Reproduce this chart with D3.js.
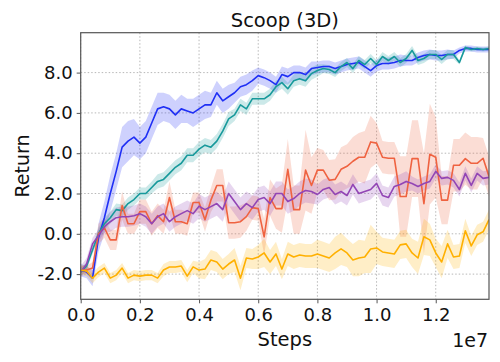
<!DOCTYPE html>
<html>
<head>
<meta charset="utf-8">
<script src="https://cdn.jsdelivr.net/npm/d3@7"></script>
<style>
  body { margin: 0; background: #fff; }
  svg { display: block; font-family: "DejaVu Sans", sans-serif; }
</style>
</head>
<body>
<div id="chart"></div>
<script>
// evaluation points, every 2e5 steps
var steps = d3.range(70).map(function (i) { return i * 2e5; });

var xTicks = [0, 2e6, 4e6, 6e6, 8e6, 10e6, 12e6];
var xTickLabels = ["0.0", "0.2", "0.4", "0.6", "0.8", "1.0", "1.2"];
var yTicks = [-2, 0, 2, 4, 6, 8];
var yTickLabels = ["-2.0", "0.0", "2.0", "4.0", "6.0", "8.0"];

var blue = [-1.8,-1.9,-2.2,-0.2,0.8,2.0,3.1,4.3,4.6,4.8, 4.5,4.8,5.5,6.2,6.3,6.2,5.9,6.2,6.1,6.0,
  6.2,6.4,6.4,7.0,6.6,6.8,7.0,7.3,7.4,7.6, 7.85,7.75,7.6,7.4,7.9,7.8,8.0,8.0,7.9,8.2,
  8.25,8.3,8.3,8.2,8.3,8.4,8.45,8.5,8.3,8.1, 8.35,8.45,8.45,8.5,8.6,8.6,8.6,8.75,8.85,8.9,
  8.85,8.85,8.9,8.9,9.1,9.2,9.2,9.15,9.15,9.15];
var blueSd = [0.3,0.3,0.4,0.7,0.8,0.9,0.9,1.0,1.0,0.9, 0.8,0.8,0.8,0.8,0.7,0.7,0.7,0.7,0.6,0.7,
  0.7,0.7,0.6,0.6,0.6,0.6,0.5,0.5,0.5,0.5, 0.4,0.4,0.4,0.4,0.4,0.4,0.35,0.35,0.35,0.35,
  0.3,0.3,0.3,0.3,0.3,0.3,0.3,0.3,0.3,0.3, 0.3,0.3,0.3,0.3,0.3,0.25,0.25,0.25,0.25,0.25,
  0.25,0.25,0.25,0.2,0.15,0.15,0.15,0.15,0.15,0.15];

var teal = [-1.9,-1.6,-0.8,0.0,0.5,0.8,1.2,1.15,1.5,1.7, 2.0,2.0,2.3,2.6,2.7,3.0,3.3,3.5,3.9,3.9,
  4.2,4.4,4.3,4.6,5.1,5.7,5.9,6.4,6.2,6.7, 6.7,6.7,6.9,7.3,7.5,7.2,7.6,7.7,7.6,7.95,
  8.1,8.2,8.15,8.0,8.3,8.5,8.2,8.6,8.4,8.7, 8.4,8.8,8.6,8.8,8.5,8.7,9.1,8.6,8.7,8.9,
  8.9,8.65,8.9,8.9,8.5,9.25,9.15,9.2,9.15,9.2];
var tealSd = [0.2,0.2,0.2,0.3,0.3,0.3,0.3,0.3,0.3,0.3, 0.3,0.3,0.3,0.35,0.35,0.35,0.35,0.35,0.35,0.35,
  0.35,0.35,0.35,0.35,0.35,0.35,0.3,0.3,0.3,0.3, 0.3,0.3,0.3,0.3,0.3,0.3,0.3,0.3,0.3,0.3,
  0.3,0.22,0.22,0.22,0.22,0.22,0.22,0.22,0.22,0.22, 0.22,0.22,0.22,0.22,0.22,0.22,0.22,0.22,0.22,0.22,
  0.22,0.22,0.22,0.22,0.1,0.1,0.1,0.1,0.1,0.1];

var red = [-1.8,-1.8,-1.7,0.0,0.3,-0.3,-0.3,1.4,0.5,0.5, 1.1,1.1,0.5,0.9,0.6,1.8,0.6,0.6,0.5,1.55,
  1.55,0.7,1.67,2.4,2.4,0.55,0.55,0.6,0.85,1.3, 1.25,-0.15,1.8,1.25,1.25,3.2,1.2,1.2,3.16,2.4,
  3.16,3.16,2.66,2.7,3.2,3.35,3.6,3.8,3.8,4.56, 4.5,3.8,3.75,3.75,1.85,1.85,3.73,3.73,1.5,3.95,
  3.8,1.67,1.67,3.4,3.4,3.73,3.5,3.5,3.75,2.85];
var redSd = [0.2,0.2,0.3,0.5,0.5,0.5,0.5,0.7,0.5,0.5, 0.6,0.6,0.6,0.6,0.6,0.8,0.6,0.6,0.6,0.5,
  0.5,0.6,0.6,0.8,0.8,0.8,0.8,0.8,0.7,0.6, 0.6,0.9,0.9,1.0,1.2,1.5,1.2,1.2,2.0,1.4,
  1.1,1.0,1.0,1.0,1.1,1.1,1.2,1.2,1.3,1.3, 1.0,0.8,0.8,0.8,2.0,2.0,1.9,1.9,2.5,2.5,
  2.0,1.2,1.2,1.3,1.3,1.3,1.3,1.3,1.0,1.0];

var purple = [-1.9,-1.5,-0.5,-0.1,0.35,0.6,0.8,0.85,0.85,0.9, 1.0,0.85,0.5,0.85,1.0,0.6,0.85,1.0,1.15,1.0,
  1.37,1.2,1.35,1.5,1.2,2.0,1.6,1.2,1.5,1.3, 1.7,1.8,1.5,2.0,2.0,1.6,1.75,2.0,2.15,2.1,
  1.95,2.2,2.3,1.95,2.1,1.9,2.45,2.0,2.1,2.2, 2.5,1.9,1.8,2.35,2.45,2.6,2.5,2.35,2.5,2.6,
  3.1,2.75,2.8,2.65,2.2,3.0,2.4,3.0,2.75,2.8];
var purpleSd = [0.3,0.3,0.3,0.3,0.3,0.5,0.5,0.5,0.5,0.5, 0.5,0.5,0.5,0.5,0.5,0.5,0.5,0.5,0.5,0.5,
  0.6,0.6,0.6,0.6,0.6,0.6,0.6,0.6,0.6,0.6, 0.6,0.6,0.6,0.6,0.6,0.6,0.6,0.6,0.6,0.6,
  0.5,0.5,0.5,0.5,0.5,0.5,0.5,0.5,0.5,0.5, 0.5,0.5,0.5,0.5,0.5,0.5,0.35,0.35,0.35,0.35,
  0.35,0.35,0.35,0.35,0.35,0.35,0.35,0.35,0.35,0.35];

var yellow = [-1.8,-1.85,-2.2,-1.9,-1.7,-2.2,-2.05,-1.7,-2.2,-2.05, -2.1,-2.05,-2.05,-2.2,-1.8,-1.65,-1.65,-1.6,-2.1,-1.64,
  -1.8,-1.75,-1.3,-1.4,-1.75,-1.5,-1.3,-2.2,-1.2,-1.25, -1.15,-0.95,-1.4,-1.0,-1.75,-1.0,-1.15,-1.05,-1.1,-1.1,
  -1.0,-1.1,-1.2,-0.95,-0.75,-0.95,-1.3,-1.2,-1.15,-0.75, -0.7,-0.9,-0.95,-1.0,-0.55,-0.5,-0.95,-1.2,-0.15,-0.3,
  -0.95,-1.4,-0.5,-1.15,-1.1,0.15,-0.6,-0.05,0.1,0.7];
var yellowSd = [0.25,0.25,0.25,0.25,0.25,0.25,0.25,0.25,0.25,0.25, 0.25,0.25,0.25,0.25,0.3,0.3,0.3,0.3,0.3,0.3,
  0.4,0.5,0.5,0.5,0.5,0.5,0.6,0.6,0.5,0.5, 0.6,0.7,0.6,0.6,0.5,0.6,0.6,0.6,0.6,0.6,
  0.7,0.7,0.7,0.8,0.8,0.7,0.8,0.9,0.8,1.2, 0.8,0.7,0.7,0.7,0.7,0.7,0.7,0.8,0.9,0.8,
  0.7,0.8,0.7,0.6,0.6,0.6,0.5,0.5,0.5,0.5];

var series = [
  { name: "blue",   values: blue,   sd: blueSd,   color: "#1f2ff5" },
  { name: "teal",   values: teal,   sd: tealSd,   color: "#17999b" },
  { name: "red",    values: red,    sd: redSd,    color: "#ef6240" },
  { name: "purple", values: purple, sd: purpleSd, color: "#9245b5" },
  { name: "yellow", values: yellow, sd: yellowSd, color: "#ffb000" }
];

var width = 500, height = 362;
var margin = { top: 32.7, right: 11, bottom: 62.7, left: 80.7 };
var w = width - margin.left - margin.right;
var h = height - margin.top - margin.bottom;

var svg = d3.select("#chart").append("svg")
  .attr("width", width)
  .attr("height", height);

var x = d3.scaleLinear().domain([0, 1.38e7]).range([0, w]);
var y = d3.scaleLinear().domain([-3.25, 9.98]).range([h, 0]);

var g = svg.append("g").attr("transform", "translate(" + margin.left + "," + margin.top + ")");

// grid
g.selectAll(".gx").data(xTicks).enter().append("line")
  .attr("x1", function (d) { return x(d); }).attr("x2", function (d) { return x(d); })
  .attr("y1", 0).attr("y2", h)
  .attr("stroke", "#b8b8b8").attr("stroke-width", 1).attr("stroke-dasharray", "1.5,2");
g.selectAll(".gy").data(yTicks).enter().append("line")
  .attr("x1", 0).attr("x2", w)
  .attr("y1", function (d) { return y(d); }).attr("y2", function (d) { return y(d); })
  .attr("stroke", "#b8b8b8").attr("stroke-width", 1).attr("stroke-dasharray", "1.5,2");

var clip = svg.append("clipPath").attr("id", "clip").append("rect")
  .attr("width", w).attr("height", h);
var plot = g.append("g").attr("clip-path", "url(#clip)");

var area = d3.area()
  .x(function (d, i) { return x(steps[i]); })
  .y0(function (d) { return y(d[0] - d[1]); })
  .y1(function (d) { return y(d[0] + d[1]); });
var line = d3.line()
  .x(function (d, i) { return x(steps[i]); })
  .y(function (d) { return y(d); });

series.forEach(function (s) {
  var pairs = s.values.map(function (v, i) { return [v, s.sd[i]]; });
  plot.append("path").datum(pairs)
    .attr("d", area)
    .attr("fill", s.color).attr("fill-opacity", 0.22).attr("stroke", "none");
});
series.forEach(function (s) {
  plot.append("path").datum(s.values)
    .attr("d", line)
    .attr("fill", "none").attr("stroke", s.color).attr("stroke-width", 1.6)
    .attr("stroke-linejoin", "round");
});

// axes
var xAxis = g.append("g").attr("transform", "translate(0," + h + ")")
  .call(d3.axisBottom(x).tickValues(xTicks).tickSize(4).tickPadding(5)
    .tickFormat(function (d, i) { return xTickLabels[i]; }));
var yAxis = g.append("g")
  .call(d3.axisLeft(y).tickValues(yTicks).tickSize(4).tickPadding(4)
    .tickFormat(function (d, i) { return yTickLabels[i]; }));
[xAxis, yAxis].forEach(function (a) {
  a.select(".domain").remove();
  a.selectAll(".tick line").attr("stroke", "#555");
  a.selectAll("text").attr("fill", "#111").style("font-size", "18px")
    .style("font-family", "DejaVu Sans, sans-serif");
});

g.append("rect").attr("width", w).attr("height", h)
  .attr("fill", "none").attr("stroke", "#555").attr("stroke-width", 1.2);

svg.append("text").attr("x", margin.left + w / 2).attr("y", 26.5)
  .attr("text-anchor", "middle").style("font-size", "19.5px").attr("fill", "#111")
  .text("Scoop (3D)");
svg.append("text").attr("x", margin.left + w / 2).attr("y", 345.5)
  .attr("text-anchor", "middle").style("font-size", "19.5px").attr("fill", "#111")
  .text("Steps");
svg.append("text").attr("x", 488).attr("y", 347)
  .attr("text-anchor", "end").style("font-size", "19px").attr("fill", "#111")
  .text("1e7");
svg.append("text").attr("transform", "translate(29," + (margin.top + h / 2) + ") rotate(-90)")
  .attr("text-anchor", "middle").style("font-size", "19px").attr("fill", "#111")
  .text("Return");
</script>
</body>
</html>
